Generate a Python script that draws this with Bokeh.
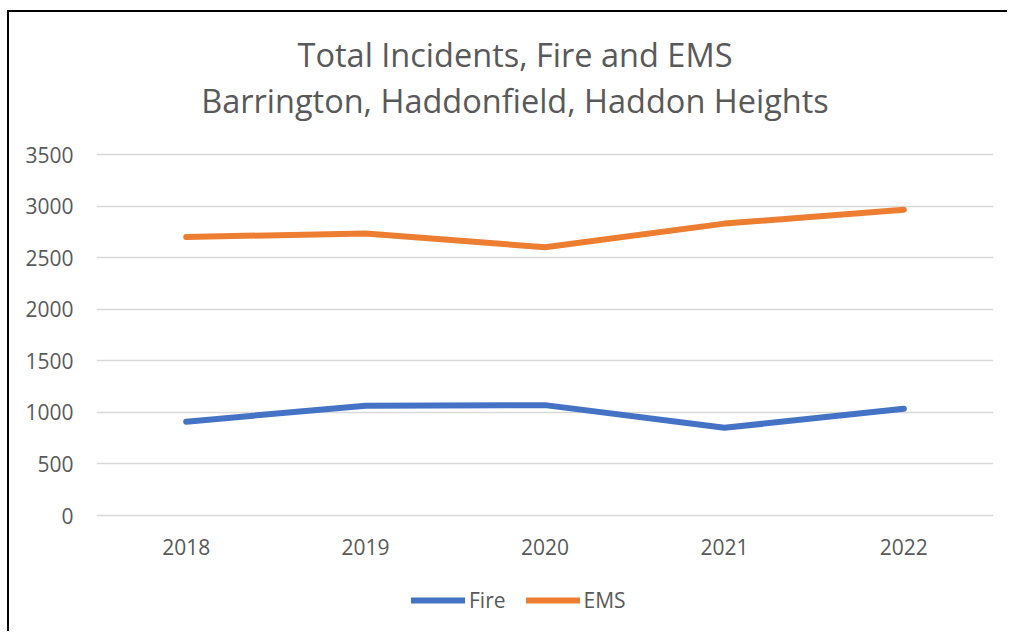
from bokeh.plotting import figure
from bokeh.models import Range1d, FactorRange, Legend, LegendItem
from bokeh.core.properties import value
from bokeh.embed import file_html
from bokeh.resources import INLINE

# Yearly incident totals
years = ["2018", "2019", "2020", "2021", "2022"]
fire = [910, 1065, 1070, 850, 1035]
ems = [2700, 2735, 2600, 2830, 2965]
y_ticks = [0, 500, 1000, 1500, 2000, 2500, 3000, 3500]
title_lines = ["Total Incidents, Fire and EMS",
               "Barrington, Haddonfield, Haddon Heights"]

FONT = "Open Sans"
GREY_TEXT = "#595959"
GRID = "#D9D9D9"

# The plot frame spans the full height of the canvas so that the heading,
# category labels and legend all sit inside it; the visible value scale
# (0-3500) occupies the middle band.
PX_PER_UNIT = 361 / 3500
y_lo = -118 / PX_PER_UNIT
y_hi = 3500 + 142 / PX_PER_UNIT

p = figure(
    width=1000, height=621,
    x_range=FactorRange(*years, range_padding=0),
    y_range=Range1d(y_lo, y_hi),
    x_axis_location=None,
    output_backend="svg", toolbar_location=None,
    min_border_left=87, min_border_right=16,
    min_border_top=0, min_border_bottom=0,
    title=None,
)
# Chart-area frame: a dark rule along the left and top edges
p.margin = (10, 0, 0, 7)
p.styles = {"border-left": "2px solid #000", "border-top": "2px solid #000"}
p.outline_line_color = None

r_fire = p.line(years, fire, line_color="#4472C4", line_width=6,
                line_cap="round", line_join="round")
r_ems = p.line(years, ems, line_color="#ED7D31", line_width=6,
               line_cap="round", line_join="round")

# Value axis
p.yaxis.ticker = y_ticks
p.yaxis.axis_line_color = None
p.yaxis.major_tick_line_color = None
p.yaxis.minor_tick_line_color = None
p.yaxis.major_label_standoff = 17
p.yaxis.major_label_text_font = FONT
p.yaxis.major_label_text_font_size = "21px"
p.yaxis.major_label_text_color = GREY_TEXT

p.xgrid.grid_line_color = None
p.ygrid.ticker = y_ticks
p.ygrid.grid_line_color = GRID
p.ygrid.grid_line_width = 1.5

# Category labels under the zero line
p.text(x=years, y=[0] * len(years), text=years, y_offset=31,
       text_align="center", text_baseline="middle",
       text_font=value(FONT), text_font_size="21px", text_color=GREY_TEXT)

# Two-line heading centred over the chart area
top = y_ticks[-1]
p.text(x=[2.5, 2.5], y=[top, top], text=title_lines,
       x_offset=-30, y_offset=[-100, -54],
       text_align="center", text_baseline="middle",
       text_font=value(FONT), text_font_size="32.5px", text_color=GREY_TEXT)

legend = Legend(
    items=[LegendItem(label="Fire", renderers=[r_fire]),
           LegendItem(label="EMS", renderers=[r_ems])],
    orientation="horizontal", location=(315, 19),
    border_line_color=None, background_fill_alpha=0,
    padding=0, margin=0, spacing=20,
    glyph_width=54, glyph_height=22, label_standoff=4,
    label_text_font=FONT, label_text_font_size="21px",
    label_text_color=GREY_TEXT,
)
p.add_layout(legend, "center")

open("out.html", "w").write(file_html(p, INLINE))
